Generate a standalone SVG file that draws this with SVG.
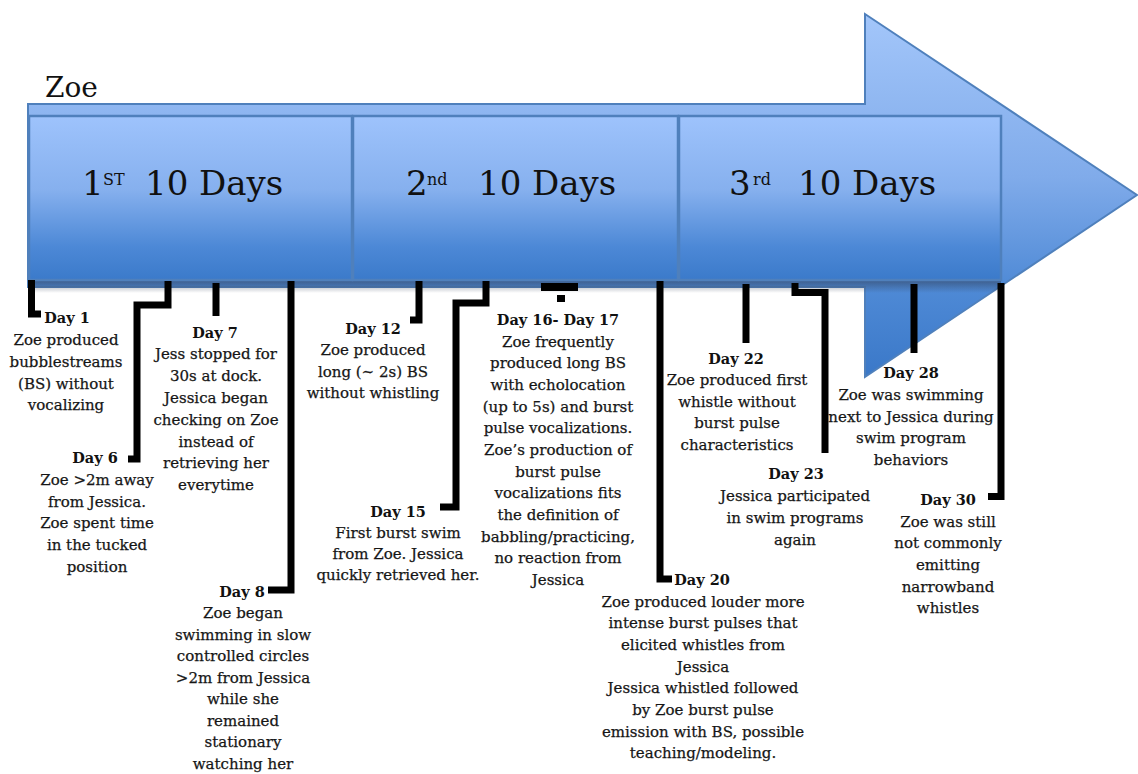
<svg xmlns="http://www.w3.org/2000/svg" width="1138" height="774" viewBox="0 0 1138 774">
<defs>
<linearGradient id="gArrow" gradientUnits="userSpaceOnUse" x1="0" y1="14" x2="0" y2="377">
<stop offset="0" stop-color="#A3C6FA"/>
<stop offset="0.45" stop-color="#80ABEA"/>
<stop offset="0.75" stop-color="#4F8AD6"/>
<stop offset="1" stop-color="#3A78C8"/>
</linearGradient>
<linearGradient id="gBox" gradientUnits="userSpaceOnUse" x1="0" y1="116" x2="0" y2="280">
<stop offset="0" stop-color="#9EC3FC"/>
<stop offset="0.45" stop-color="#86B0EE"/>
<stop offset="0.8" stop-color="#4C88D6"/>
<stop offset="1" stop-color="#3B7ACA"/>
</linearGradient>
<linearGradient id="gShadow" x1="0" y1="0" x2="0" y2="1">
<stop offset="0" stop-color="#2F3E58" stop-opacity="0.6"/>
<stop offset="1" stop-color="#2F3E58" stop-opacity="0"/>
</linearGradient>
<style>
.box{fill:url(#gBox);stroke:#4F80BC;stroke-width:2.5}
.big{font-family:"DejaVu Serif","Liberation Serif",serif;font-size:34px;fill:#111}
.sup{font-family:"DejaVu Serif","Liberation Serif",serif;font-size:16px;fill:#111}
.h{font-family:"DejaVu Serif","Liberation Serif",serif;font-size:14.5px;font-weight:bold;fill:#111;text-anchor:middle}
.t{font-family:"DejaVu Serif","Liberation Serif",serif;font-size:15px;fill:#161616;stroke:#161616;stroke-width:0.25;text-anchor:middle}
.c{fill:none;stroke:#000;stroke-width:7;stroke-linejoin:miter;stroke-linecap:butt}
</style>
</defs>
<rect width="1138" height="774" fill="#fff"/>
<g id="arrow">
<path d="M28,104 H865 V14 L1137,195 L865,377 V287 H28 Z" fill="url(#gArrow)" stroke="#4F80BC" stroke-width="2"/>
<rect x="28" y="280" width="973" height="13" fill="url(#gShadow)"/>
</g>
<g id="title">
<text x="45" y="97" font-family="DejaVu Serif, Liberation Serif, serif" font-size="28" fill="#111">Zoe</text>
</g>
<g id="period-1">
<rect class="box" x="29" y="116" width="323" height="164"/>
<text class="big" x="82" y="195">1</text><text class="sup" x="103" y="185">ST</text><text class="big" x="145" y="195">10 Days</text>
</g>
<g id="period-2">
<rect class="box" x="353" y="116" width="325" height="164"/>
<text class="big" x="406" y="195">2</text><text class="sup" x="427" y="185">nd</text><text class="big" x="478" y="195">10 Days</text>
</g>
<g id="period-3">
<rect class="box" x="679" y="116" width="322" height="164"/>
<text class="big" x="729" y="195">3</text><text class="sup" x="753" y="185">rd</text><text class="big" x="798" y="195">10 Days</text>
</g>
<g id="connectors">
<path class="c" d="M31.5,280 V314 H41"/>
<path class="c" d="M168,281 V305 H137 V459 H128"/>
<path class="c" d="M216,283 V316"/>
<path class="c" d="M291,281 V590 H268"/>
<path class="c" d="M419,281 V320 H410"/>
<path class="c" d="M486,281 V303 H456 V507 H440"/>
<rect x="541" y="283" width="37" height="8" fill="#000"/>
<rect x="557" y="295" width="8" height="7" fill="#000"/>
<path class="c" d="M660,281 V579 H672"/>
<path class="c" d="M746,284 V343"/>
<path class="c" d="M795,283 V292.5 H825 V453"/>
<path class="c" d="M914,284 V353"/>
<path class="c" d="M1001,283 V496.5 H988"/>
</g>
<g id="day-1">
<text class="h" x="67" y="323">Day 1</text>
<text class="t"><tspan x="66" y="345">Zoe produced</tspan><tspan x="66" y="367">bubblestreams</tspan><tspan x="66" y="389">(BS) without</tspan><tspan x="66" y="410">vocalizing</tspan></text>
</g>
<g id="day-6">
<text class="h" x="95" y="463">Day 6</text>
<text class="t"><tspan x="97" y="485">Zoe &gt;2m away</tspan><tspan x="97" y="507">from Jessica.</tspan><tspan x="97" y="528">Zoe spent time</tspan><tspan x="97" y="550">in the tucked</tspan><tspan x="97" y="572">position</tspan></text>
</g>
<g id="day-7">
<text class="h" x="215" y="338">Day 7</text>
<text class="t"><tspan x="216" y="359">Jess stopped for</tspan><tspan x="216" y="381">30s at dock.</tspan><tspan x="216" y="403">Jessica began</tspan><tspan x="216" y="425">checking on Zoe</tspan><tspan x="216" y="447">instead of</tspan><tspan x="216" y="468">retrieving her</tspan><tspan x="216" y="490">everytime</tspan></text>
</g>
<g id="day-8">
<text class="h" x="242" y="597">Day 8</text>
<text class="t"><tspan x="243" y="618">Zoe began</tspan><tspan x="243" y="640">swimming in slow</tspan><tspan x="243" y="661">controlled circles</tspan><tspan x="243" y="683">&gt;2m from Jessica</tspan><tspan x="243" y="704">while she</tspan><tspan x="243" y="726">remained</tspan><tspan x="243" y="747">stationary</tspan><tspan x="243" y="769">watching her</tspan></text>
</g>
<g id="day-12">
<text class="h" x="373" y="334">Day 12</text>
<text class="t"><tspan x="373" y="355">Zoe produced</tspan><tspan x="373" y="377">long (~ 2s) BS</tspan><tspan x="373" y="398">without whistling</tspan></text>
</g>
<g id="day-15">
<text class="h" x="398" y="517">Day 15</text>
<text class="t"><tspan x="398" y="538">First burst swim</tspan><tspan x="398" y="559">from Zoe. Jessica</tspan><tspan x="398" y="580">quickly retrieved her.</tspan></text>
</g>
<g id="day-16-17">
<text class="h" x="558" y="325">Day 16- Day 17</text>
<text class="t"><tspan x="558" y="347">Zoe frequently</tspan><tspan x="558" y="368">produced long BS</tspan><tspan x="558" y="390">with echolocation</tspan><tspan x="558" y="412">(up to 5s) and burst</tspan><tspan x="558" y="433">pulse vocalizations.</tspan><tspan x="558" y="455">Zoe’s production of</tspan><tspan x="558" y="477">burst pulse</tspan><tspan x="558" y="498">vocalizations fits</tspan><tspan x="558" y="520">the definition of</tspan><tspan x="558" y="542">babbling/practicing,</tspan><tspan x="558" y="563">no reaction from</tspan><tspan x="558" y="585">Jessica</tspan></text>
</g>
<g id="day-20">
<text class="h" x="702" y="585">Day 20</text>
<text class="t"><tspan x="703" y="607">Zoe produced louder more</tspan><tspan x="703" y="628">intense burst pulses that</tspan><tspan x="703" y="650">elicited whistles from</tspan><tspan x="703" y="672">Jessica</tspan><tspan x="703" y="693">Jessica whistled followed</tspan><tspan x="703" y="715">by Zoe burst pulse</tspan><tspan x="703" y="737">emission with BS, possible</tspan><tspan x="703" y="758">teaching/modeling.</tspan></text>
</g>
<g id="day-22">
<text class="h" x="736" y="364">Day 22</text>
<text class="t"><tspan x="737" y="385">Zoe produced first</tspan><tspan x="737" y="407">whistle without</tspan><tspan x="737" y="428">burst pulse</tspan><tspan x="737" y="450">characteristics</tspan></text>
</g>
<g id="day-23">
<text class="h" x="796" y="479">Day 23</text>
<text class="t"><tspan x="795" y="501">Jessica participated</tspan><tspan x="795" y="523">in swim programs</tspan><tspan x="795" y="545">again</tspan></text>
</g>
<g id="day-28">
<text class="h" x="911" y="378">Day 28</text>
<text class="t"><tspan x="911" y="400">Zoe was swimming</tspan><tspan x="911" y="422">next to Jessica during</tspan><tspan x="911" y="443">swim program</tspan><tspan x="911" y="465">behaviors</tspan></text>
</g>
<g id="day-30">
<text class="h" x="948" y="505">Day 30</text>
<text class="t"><tspan x="948" y="527">Zoe was still</tspan><tspan x="948" y="548">not commonly</tspan><tspan x="948" y="570">emitting</tspan><tspan x="948" y="592">narrowband</tspan><tspan x="948" y="613">whistles</tspan></text>
</g>
</svg>
